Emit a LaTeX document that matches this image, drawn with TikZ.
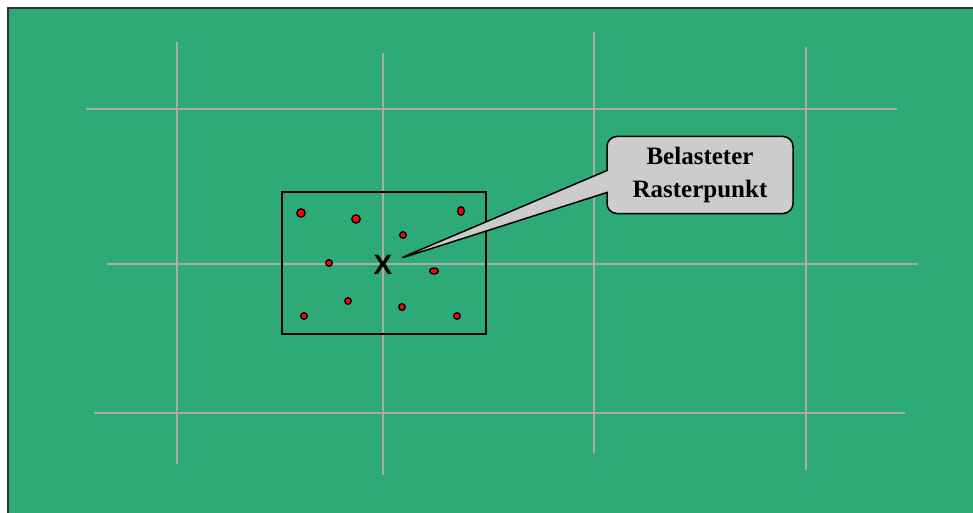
\documentclass[tikz,border=0pt]{standalone}
\usepackage{fontspec}
\setmainfont{Liberation Serif}
\setsansfont{Liberation Sans}
\usetikzlibrary{shapes.callouts}
\definecolor{feld}{RGB}{46,170,121}
\definecolor{raster}{RGB}{172,172,172}
\definecolor{blasengrau}{RGB}{204,204,204}

\begin{document}
\begin{tikzpicture}[x=1pt,y=-1pt,
  gitter/.style={raster,line width=1.6pt},
  punkt/.style={fill=red,draw=black,line width=1.3pt}]
\useasboundingbox (0,0) rectangle (973,513);
\fill[feld] (8,8) rectangle (973,513);
\draw[line width=2pt,black!80] (8,513) -- (8,8) -- (973,8);
% Raster
\draw[gitter] (177,42) -- (177,464);
\draw[gitter] (383,53) -- (383,475);
\draw[gitter] (594,32) -- (594,453);
\draw[gitter] (806,47) -- (806,470);
\draw[gitter] (86,109) -- (897,109);
\draw[gitter] (107,264) -- (918,264);
\draw[gitter] (94,413) -- (905,413);
% Einzugsbereich mit Lastpunkten
\draw[line width=1.5pt] (282,192) rectangle (486,334);
\foreach \x/\y/\a/\b in {301/213/4.2/4.2, 356/219/4.2/4.2, 461/211/3.3/4.4, 403/235/3.3/3.3,
  329/263/3.3/3.3, 434/271/4.4/3.1, 348/301/3.3/3.3, 402/307/3.3/3.3, 304/316/3.3/3.3, 457/316/3.3/3.3}
  \filldraw[punkt] (\x,\y) ellipse [x radius=\a pt, y radius=\b pt];
\node[font=\fontsize{28}{28}\selectfont\sffamily\bfseries,inner sep=0pt] (mark) at (383,265) {X};
\node[rectangle callout,fill=blasengrau,draw=black,line width=1.5pt,rounded corners=10pt,
  minimum width=186pt,minimum height=77pt,align=center,callout pointer width=22pt,
  callout absolute pointer={([xshift=6pt,yshift=6pt]mark.east)},
  font=\fontsize{25}{33}\selectfont\bfseries] (blase) at (700,175) {Belasteter\\Rasterpunkt};
\end{tikzpicture}
\end{document}
